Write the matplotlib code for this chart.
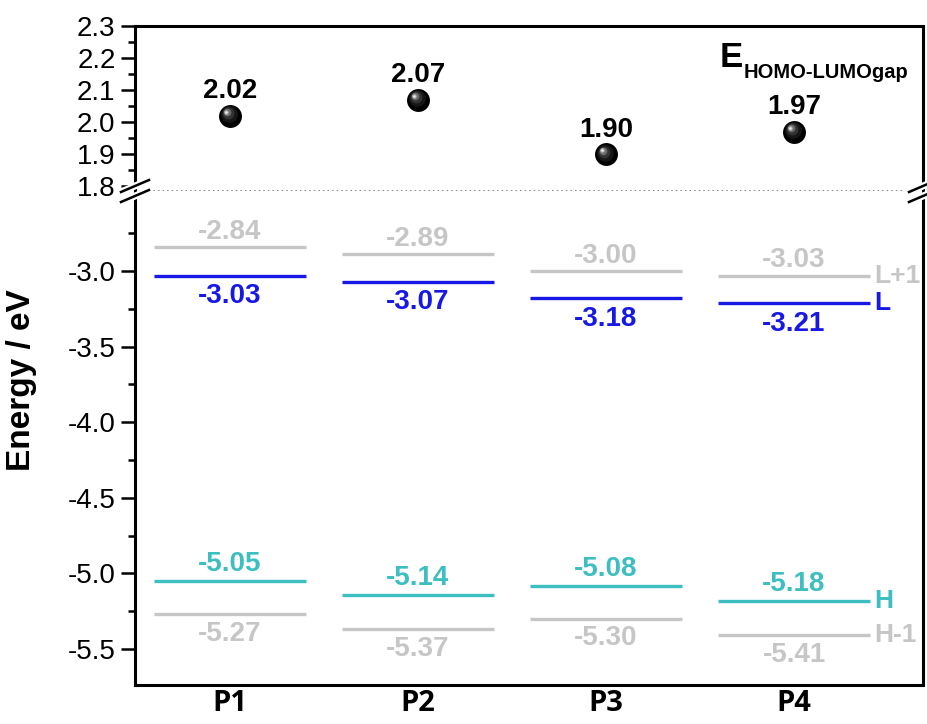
import matplotlib
matplotlib.use("Agg")
import matplotlib.pyplot as plt
from matplotlib.ticker import MultipleLocator, FixedLocator
from matplotlib.transforms import offset_copy

# Frontier orbital energies (eV) of the four polymers
polymers = ["P1", "P2", "P3", "P4"]
gap = [2.02, 2.07, 1.90, 1.97]
lumo_plus1 = [-2.84, -2.89, -3.00, -3.03]
lumo = [-3.03, -3.07, -3.18, -3.21]
homo = [-5.05, -5.14, -5.08, -5.18]
homo_minus1 = [-5.27, -5.37, -5.30, -5.41]

GRAY = "#c6c6c6"
BLUE = "#1818e4"
TEAL = "#3dbec0"

num_font = ["Liberation Sans", "DejaVu Sans"]
head_font = ["Open Sans", "DejaVu Sans"]

W, H = 927, 724
fig = plt.figure(figsize=(W / 100, H / 100), dpi=100)

left, right, top, brk, bottom = 135, 923, 26, 191, 685
ax_top = fig.add_axes([left / W, (H - brk) / H, (right - left) / W, (brk - top) / H])
ax_bot = fig.add_axes([left / W, (H - bottom) / H, (right - left) / W, (bottom - brk) / H],
                      sharex=ax_top)

x = list(range(1, len(polymers) + 1))
half = 0.405

for ax in (ax_top, ax_bot):
    for s in ax.spines.values():
        s.set_linewidth(2.2)
    ax.tick_params(axis="y", which="major", direction="out", length=10, width=1.8,
                   labelsize=20, pad=4, right=False)
    ax.tick_params(axis="y", which="minor", direction="out", length=5, width=1.8, right=False)
    ax.tick_params(axis="x", which="both", length=0)

ax_top.spines["bottom"].set_visible(False)
ax_bot.spines["top"].set_visible(False)

# ---- upper panel: HOMO-LUMO gap ----
ax_top.set_ylim(1.7845, 2.3)
ax_top.yaxis.set_major_locator(MultipleLocator(0.1))
ax_top.yaxis.set_minor_locator(MultipleLocator(0.05))
ax_top.yaxis.set_major_formatter(plt.FuncFormatter(lambda v, p: f"{v:.1f}"))
ax_top.tick_params(axis="x", labelbottom=False)

# shaded spheres built from stacked discs
layers = [(16.5, "#000000", 0, 0), (12, "#161616", -0.9, 0.9), (8.5, "#333333", -1.7, 1.7),
          (5.5, "#6c6c6c", -2.3, 2.3), (3.2, "#b4b4b4", -2.7, 2.7), (1.6, "#eeeeee", -2.9, 2.9)]
for ms, col, dx, dy in layers:
    tr = offset_copy(ax_top.transData, fig=fig, x=dx, y=dy, units="points")
    ax_top.plot(x, gap, "o", ms=ms, color=col, mec="none", transform=tr, zorder=3)
for xi, g in zip(x, gap):
    ax_top.annotate(f"{g:.2f}", (xi, g), xytext=(0, 17.5), textcoords="offset points",
                    ha="center", va="center", fontsize=20, fontweight="bold",
                    family=num_font, color="black")

ax_top.text(0.742, 0.752, "E", transform=ax_top.transAxes, fontsize=25, fontweight="bold",
            family=num_font, ha="left", va="baseline")
ax_top.text(0.772, 0.685, "HOMO-LUMOgap", transform=ax_top.transAxes, fontsize=14.5,
            fontweight="bold", family=num_font, ha="left", va="baseline")

# ---- lower panel: orbital levels ----
ax_bot.set_ylim(-5.738, -2.471)
ax_bot.yaxis.set_major_locator(FixedLocator([-5.5, -5.0, -4.5, -4.0, -3.5, -3.0]))
ax_bot.yaxis.set_minor_locator(FixedLocator([-5.25, -4.75, -4.25, -3.75, -3.25, -2.75]))
ax_bot.yaxis.set_major_formatter(plt.FuncFormatter(lambda v, p: f"{v:.1f}"))
ax_bot.set_xlim(0.495, 4.686)
ax_bot.set_xticks(x)
ax_bot.set_xticklabels(polymers, fontsize=21, fontweight="bold", family=head_font)
ax_bot.tick_params(axis="x", pad=3)
ax_bot.set_ylabel("Energy / eV", fontsize=24, fontweight="bold", family=num_font)
ax_bot.yaxis.set_label_coords(-0.124, 0.617)

levels = [
    (lumo_plus1, GRAY, 11, "L+1"),
    (lumo, BLUE, -15, "L"),
    (homo, TEAL, 12, "H"),
    (homo_minus1, GRAY, -14, "H-1"),
]
for vals, col, off, tag in levels:
    ax_bot.hlines(vals, [xi - half for xi in x], [xi + half for xi in x],
                  colors=col, linewidth=2.4)
    for xi, v in zip(x, vals):
        ax_bot.annotate(f"{v:.2f}", (xi, v), xytext=(0, off), textcoords="offset points",
                        ha="center", va="center", fontsize=20, fontweight="bold",
                        family=num_font, color=col)
    ax_bot.annotate(tag, (x[-1] + half, vals[-1]), xytext=(3, 0), textcoords="offset points",
                    ha="left", va="center", fontsize=19, fontweight="bold",
                    family=num_font, color=col)

for lab in ax_top.get_yticklabels() + ax_bot.get_yticklabels():
    lab.set_family(num_font)

# dotted separator and axis-break marks
ax_top.plot([0, 1], [0, 0], transform=ax_top.transAxes, ls=(0, (1, 2)), color="#666666",
            lw=1.1, clip_on=False, zorder=5)
for xb in (left, right):
    for yc in (brk - 5, brk + 5):
        x0, x1 = (xb - 14) / W, (xb + 14) / W
        y0, y1 = (H - yc + 6) / H, (H - yc - 6) / H
        fig.add_artist(plt.Line2D([x0, x1], [y1, y0], color="white", lw=5,
                                  transform=fig.transFigure, zorder=9))
    for yc in (brk - 5, brk + 5):
        x0, x1 = (xb - 14) / W, (xb + 14) / W
        y0, y1 = (H - yc + 6) / H, (H - yc - 6) / H
        fig.add_artist(plt.Line2D([x0, x1], [y1, y0], color="black", lw=1.8,
                                  transform=fig.transFigure, zorder=10))

fig.savefig("out.png", dpi=100)
